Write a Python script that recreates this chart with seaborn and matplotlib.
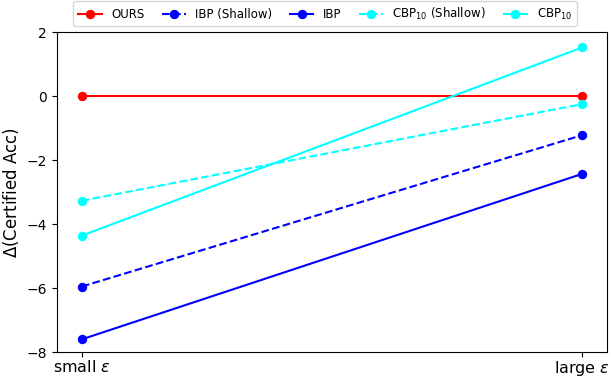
import pandas as pd
import matplotlib
matplotlib.use("Agg")
import matplotlib.pyplot as plt
import seaborn as sns

# x positions / labels
x_labels = [r'small $\epsilon$', r'large $\epsilon$']
x_pos = [0, 1]

# delta certified accuracy per method
ours = [0.0, 0.0]
ibp_shallow = [-5.95, -1.22]
ibp = [-7.6, -2.43]
cbp_shallow = [-3.27, -0.25]
cbp = [-4.36, 1.52]

series = [
    ('OURS', ours, 'red', '-'),
    ('IBP (Shallow)', ibp_shallow, 'blue', '--'),
    ('IBP', ibp, 'blue', '-'),
    (r'CBP$_{10}$ (Shallow)', cbp_shallow, 'cyan', '--'),
    (r'CBP$_{10}$', cbp, 'cyan', '-'),
]

fig, ax = plt.subplots(figsize=(6.11, 3.77), dpi=100)

for name, vals, color, ls in series:
    df = pd.DataFrame({'x': x_pos, 'y': vals})
    sns.lineplot(data=df, x='x', y='y', ax=ax, color=color, linestyle=ls,
                 marker='o', markersize=6, markeredgecolor=color,
                 linewidth=1.5, label=name)

ax.set_xticks(x_pos)
ax.set_xticklabels(x_labels, fontsize=11.5)
ax.tick_params(axis='x', pad=1.5)
ax.set_xlabel('')
ax.set_ylabel(r'$\Delta$(Certified Acc)', fontsize=12)
ax.set_ylim(-8, 2)
ax.set_yticks([-8, -6, -4, -2, 0, 2])
ax.tick_params(axis='y', labelsize=10)

ax.legend(loc='lower center', bbox_to_anchor=(0.487, 1.01), ncol=5, fontsize=8.5,
          frameon=True, borderaxespad=0.2, columnspacing=1.5, handlelength=2.0)

plt.subplots_adjust(left=0.093, right=0.994, top=0.915, bottom=0.066)
plt.savefig('out.png', dpi=100)
